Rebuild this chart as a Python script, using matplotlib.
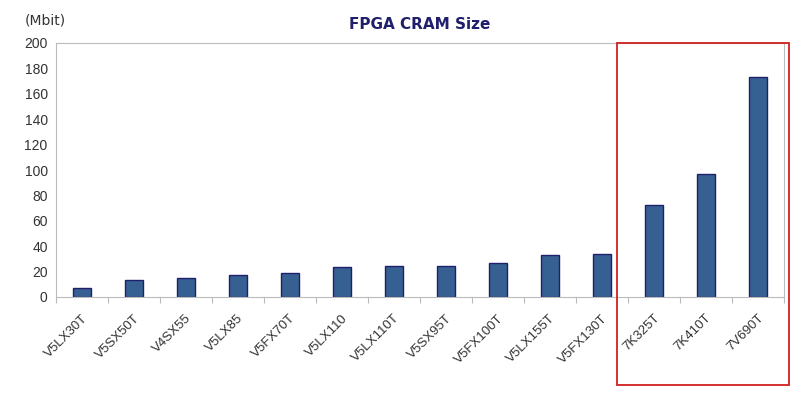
import matplotlib.pyplot as plt
from matplotlib.patches import Rectangle

devices = ["V5LX30T", "V5SX50T", "V4SX55", "V5LX85", "V5FX70T", "V5LX110", "V5LX110T",
           "V5SX95T", "V5FX100T", "V5LX155T", "V5FX130T", "7K325T", "7K410T", "7V690T"]
cram_mbit = [7, 13.5, 15, 17.5, 19, 23.5, 24.3, 24.5, 26.8, 33, 34, 72.5, 97, 173.5]
y_ticks = [0, 20, 40, 60, 80, 100, 120, 140, 160, 180, 200]

fig = plt.figure(figsize=(8, 4.16), dpi=100)
ax = fig.add_axes([56 / 800, 1 - 297 / 416, (784 - 56) / 800, (297 - 43) / 416])

x = range(len(devices))
ax.bar(x, cram_mbit, width=0.33, color="#376092", edgecolor="#1F1F6B", linewidth=1)
ax.set_xlim(-0.5, len(devices) - 0.5)
ax.set_ylim(0, 200)
ax.set_yticks(y_ticks)
ax.set_yticklabels([str(v) for v in y_ticks], fontsize=10, color="#333333", fontfamily="Liberation Sans")
ax.set_xticks([i + 0.5 for i in range(-1, len(devices))], minor=False)
ax.set_xticklabels([])
ax.tick_params(axis="x", length=4, color="#BBBBBB")
ax.tick_params(axis="y", length=0, pad=6)
for i, name in enumerate(devices):
    ax.text(i + 0.15, -12, name, rotation=45, ha="right", va="top", fontsize=9.5,
            color="#333333", fontfamily="Liberation Sans")
for s in ax.spines.values():
    s.set_color("#BBBBBB")

ax.set_title("FPGA CRAM Size", fontsize=11, fontweight="bold", color="#1F1F6B", pad=10)
fig.text(25 / 800, 1 - 20 / 416, "(Mbit)", fontsize=10, color="#333333", va="center")

# red highlight box around 7-series
fig.patches.append(Rectangle((617 / 800, 1 - 385 / 416), 172 / 800, 342 / 416,
                             transform=fig.transFigure, fill=False, edgecolor="#D02020", linewidth=1.3))

fig.savefig("out.png")
